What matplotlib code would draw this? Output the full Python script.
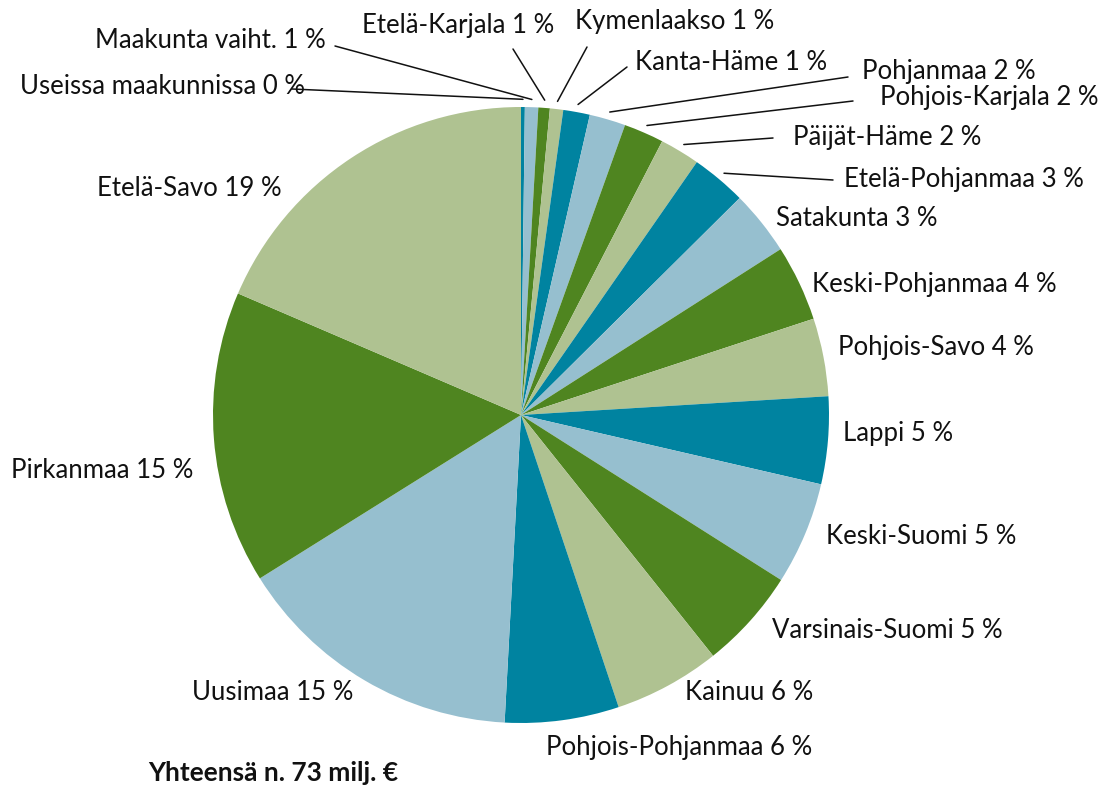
import matplotlib
matplotlib.use("Agg")
import matplotlib.pyplot as plt
import numpy as np

# Rahoitus maakunnittain, osuudet (%) myötäpäivään ylhäältä alkaen
regions = [
    "Useissa maakunnissa", "Maakunta vaiht.", "Etelä-Karjala", "Kymenlaakso",
    "Kanta-Häme", "Pohjanmaa", "Pohjois-Karjala", "Päijät-Häme",
    "Etelä-Pohjanmaa", "Satakunta", "Keski-Pohjanmaa", "Pohjois-Savo",
    "Lappi", "Keski-Suomi", "Varsinais-Suomi", "Kainuu",
    "Pohjois-Pohjanmaa", "Uusimaa", "Pirkanmaa", "Etelä-Savo",
]
shares = [0.2, 0.7, 0.6, 0.7, 1.4, 1.9, 2.1, 2.1, 2.9, 3.4,
          4.0, 4.1, 4.6, 5.4, 5.3, 5.6, 6.0, 15.3, 15.4, 18.6]
total_text = "Yhteensä n. 73 milj. €"

palette = ["#0083A0", "#96BFCF", "#4F8520", "#AFC291"]

# label layout in pixels (x, y from top-left), alignment, leader line start or None
W, H = 1107, 785
label_pos = [
    (305, 86, "right", (292, 89)),
    (326, 40, "right", (335, 46)),
    (362, 25, "left", (513, 49)),
    (575, 22, "left", (587, 47)),
    (635, 62, "left", (627, 67)),
    (862, 72, "left", (848, 77)),
    (880, 97, "left", (853, 101)),
    (793, 138, "left", (773, 138)),
    (844, 180, "left", (833, 180)),
    (776, 219, "left", None),
    (812, 285, "left", None),
    (838, 348, "left", None),
    (843, 434, "left", None),
    (826, 537, "left", None),
    (772, 630, "left", None),
    (685, 693, "left", None),
    (546, 748, "left", None),
    (353, 692, "right", None),
    (193, 470, "right", None),
    (282, 188, "right", None),
]


def px(x, y):
    return x / W, 1 - y / H


plt.rcParams["font.family"] = ["Lato", "DejaVu Sans"]

fig = plt.figure(figsize=(W / 100, H / 100), dpi=100)
cx, cy, r = 521, 415, 308
ax = fig.add_axes([(cx - r) / W, (H - cy - r) / H, 2 * r / W, 2 * r / H])

colors = [palette[i % 4] for i in range(len(shares))]
wedges, _ = ax.pie(shares, colors=colors, startangle=90, counterclock=False,
                   radius=1.0, wedgeprops=dict(linewidth=0))
ax.set_xlim(-1, 1)
ax.set_ylim(-1, 1)
ax.set_aspect("equal")
ax.axis("off")

for w, name, val, (lx, ly, ha, line) in zip(wedges, regions, shares, label_pos):
    fig.text(*px(lx, ly), f"{name} {round(val)} %", ha=ha, va="center",
             fontsize=18.5, color="#111111")
    if line is not None:
        mid = np.deg2rad((w.theta1 + w.theta2) / 2)
        ax.annotate("", xy=(1.025 * np.cos(mid), 1.025 * np.sin(mid)), xycoords="data",
                    xytext=px(*line), textcoords="figure fraction",
                    annotation_clip=False,
                    arrowprops=dict(arrowstyle="-", lw=1.1, color="#111111",
                                    shrinkA=0, shrinkB=0))

fig.text(*px(148, 773), total_text, ha="left", va="center",
         fontsize=19, fontweight="bold", color="#111111")

fig.savefig("out.png", dpi=100)
